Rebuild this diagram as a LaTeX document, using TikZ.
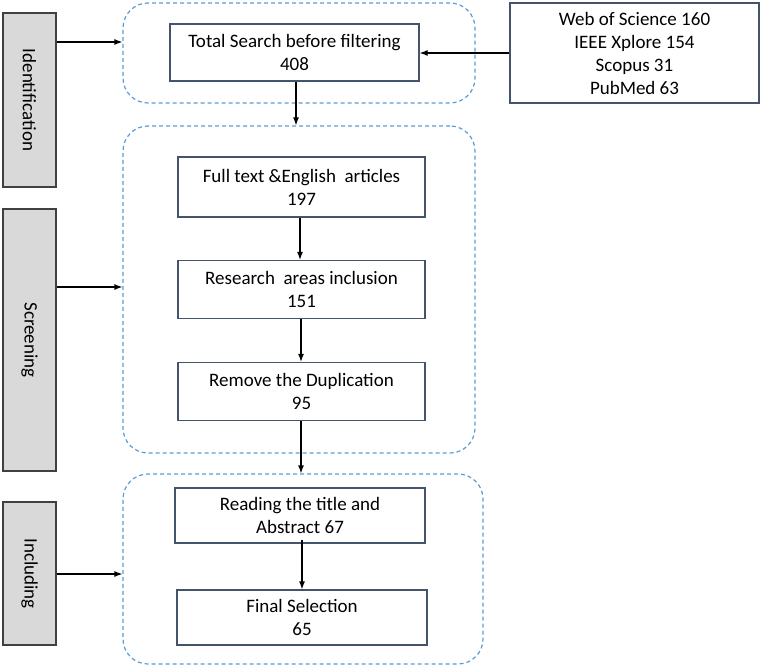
\documentclass[tikz,border=0pt]{standalone}
\usepackage{fontspec}
\setmainfont{Carlito}
\usepackage{xcolor}
\usetikzlibrary{arrows.meta}

\definecolor{groupblue}{RGB}{91,155,213}
\definecolor{boxedge}{RGB}{68,84,106}
\definecolor{stagegray}{RGB}{217,217,217}

\begin{document}
\begin{tikzpicture}[x=1pt, y=-1pt,
        font=\fontsize{19}{23}\selectfont,
        stage/.style={draw=black!75, fill=stagegray, line width=1.3pt, minimum width=53pt, inner sep=0pt},
        stepbox/.style={draw=boxedge, line width=1.2pt, align=center, minimum width=248pt, minimum height=58pt, inner sep=2pt},
        group/.style={draw=groupblue, line width=1.2pt, dash pattern=on 4pt off 3pt, rounded corners=25pt, inner sep=0pt},
        arr/.style={-{Latex[length=8pt,width=6pt]}, line width=1.2pt}]
        \useasboundingbox (0,0) rectangle (762,668);

        % dashed groups
        \node[group, minimum width=352pt, minimum height=100pt] (cont1) at (299,53) {};
        \node[group, minimum width=352pt, minimum height=327pt] (cont2) at (299,289.5) {};
        \node[group, minimum width=360pt, minimum height=190pt] (cont3) at (303,569) {};

        % stages on the left
        \node[stage, minimum height=174pt] (ident) at (29.5,100) {\rotatebox{-90}{Identification}};
        \node[stage, minimum height=262pt] (screen) at (29.5,340) {\rotatebox{-90}{Screening}};
        \node[stage, minimum height=143pt] (incl) at (29.5,573.5) {\rotatebox{-90}{Including}};

        % boxes
        \node[stepbox, minimum width=249pt, minimum height=57pt] (total) at (294.5,52.5) {Total Search before filtering\\408};
        \node[stepbox, minimum width=249pt, minimum height=100pt] (sources) at (634.5,53) {Web of Science 160\\IEEE Xplore 154\\Scopus 31\\PubMed 63};
        \node[stepbox, minimum width=247pt, minimum height=60pt] (full) at (301.5,187) {Full text \&English~ articles\\197};
        \node[stepbox, minimum width=247pt] (research) at (301.5,289.5) {Research~ areas inclusion\\151};
        \node[stepbox, minimum width=247pt] (remove) at (301.5,391.5) {Remove the Duplication\\95};
        \node[stepbox, minimum width=250pt, minimum height=55pt] (reading) at (300,515.5) {Reading the title and\\Abstract 67};
        \node[stepbox, minimum width=250pt, minimum height=55pt] (final) at (302,617.5) {Final Selection\\65};

        % connectors
        \draw[arr] (ident.east |- 0,42) -- (cont1.west |- 0,42);
        \draw[arr] (screen.east |- 0,287) -- (cont2.west |- 0,287);
        \draw[arr] (incl.east |- 0,574) -- (cont3.west |- 0,574);
        \draw[arr] (sources.west) -- (sources.west -| total.east);
        \draw[arr] (total.south -| 296,0) -- (cont2.north -| 296,0);
        \draw[arr] (full.south -| 300,0) -- (research.north -| 300,0);
        \draw[arr] (research.south -| 301,0) -- (remove.north -| 301,0);
        \draw[arr] (remove.south -| 301,0) -- (cont3.north -| 301,0);
        \draw[arr] ([yshift=4pt]reading.south -| final.north) -- (final.north);
    \end{tikzpicture}
\end{document}
